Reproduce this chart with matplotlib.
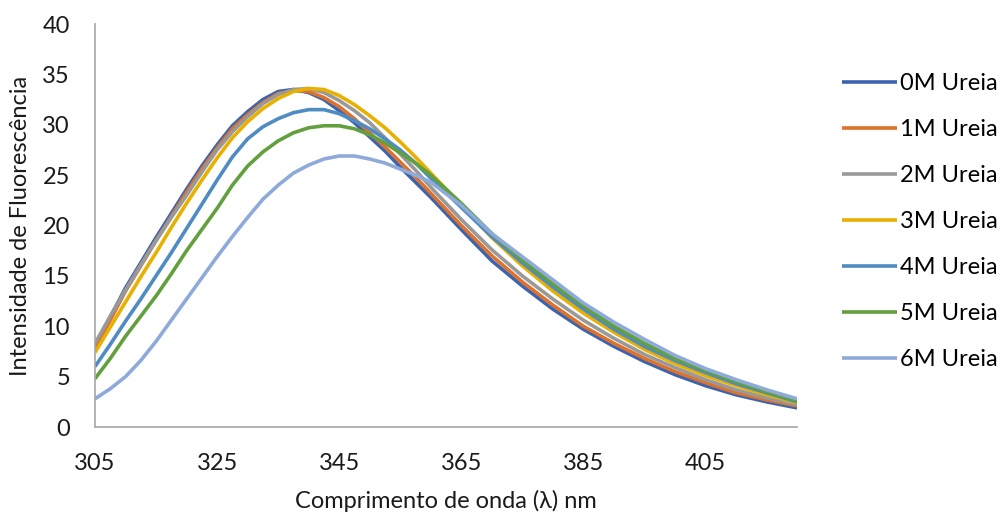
import matplotlib.pyplot as plt

# Emission spectra of the protein at increasing urea concentration
# (2.5 nm steps up to 360 nm, 5 nm steps after)
wavelength = [305, 307.5, 310, 312.5, 315, 317.5, 320, 322.5, 325, 327.5, 330, 332.5,
              335, 337.5, 340, 342.5, 345, 347.5, 350, 352.5, 355, 357.5, 360,
              365, 370, 375, 380, 385, 390, 395, 400, 405, 410, 415, 420]

urea_0M = [8.0, 10.9, 13.8, 16.3, 18.8, 21.2, 23.6, 25.9, 28.0, 29.9, 31.3, 32.5,
           33.3, 33.5, 33.2, 32.5, 31.4, 30.2, 28.8, 27.4, 25.8, 24.3, 22.8,
           19.6, 16.5, 14.0, 11.7, 9.7, 8.0, 6.5, 5.2, 4.1, 3.2, 2.5, 1.9]
urea_1M = [7.8, 10.6, 13.5, 16.0, 18.5, 20.9, 23.3, 25.6, 27.7, 29.6, 31.0, 32.2,
           33.1, 33.4, 33.3, 32.7, 31.8, 30.6, 29.2, 27.8, 26.3, 24.8, 23.2,
           20.0, 17.0, 14.4, 12.1, 10.0, 8.3, 6.8, 5.5, 4.4, 3.4, 2.7, 2.1]
urea_2M = [8.3, 11.0, 13.6, 16.1, 18.5, 20.8, 23.0, 25.3, 27.5, 29.3, 30.8, 32.1,
           33.0, 33.5, 33.6, 33.2, 32.4, 31.4, 30.2, 28.7, 27.1, 25.5, 23.8,
           20.6, 17.6, 15.0, 12.7, 10.6, 8.8, 7.2, 5.9, 4.7, 3.7, 2.9, 2.2]
urea_3M = [7.4, 9.9, 12.4, 14.9, 17.3, 19.8, 22.2, 24.5, 26.7, 28.7, 30.3, 31.6,
           32.6, 33.3, 33.6, 33.5, 32.9, 32.0, 30.9, 29.7, 28.3, 26.8, 25.2,
           22.0, 18.8, 16.0, 13.5, 11.3, 9.4, 7.7, 6.3, 5.1, 4.1, 3.2, 2.4]
urea_4M = [6.0, 8.2, 10.5, 12.7, 15.0, 17.3, 19.7, 22.1, 24.5, 26.8, 28.6, 29.8,
           30.6, 31.2, 31.5, 31.5, 31.1, 30.4, 29.6, 28.6, 27.5, 26.2, 24.7,
           21.8, 18.9, 16.3, 13.9, 11.7, 9.7, 8.0, 6.6, 5.4, 4.3, 3.4, 2.5]
urea_5M = [4.8, 6.8, 9.0, 11.0, 13.0, 15.2, 17.5, 19.6, 21.7, 24.0, 25.9, 27.3,
           28.4, 29.2, 29.7, 29.9, 29.9, 29.6, 29.0, 28.2, 27.2, 26.2, 25.0,
           22.2, 19.2, 16.6, 14.2, 12.0, 10.0, 8.3, 6.8, 5.6, 4.5, 3.5, 2.6]
urea_6M = [2.8, 3.8, 5.0, 6.6, 8.5, 10.6, 12.7, 14.8, 16.9, 18.9, 20.8, 22.6,
           24.0, 25.2, 26.0, 26.6, 26.9, 26.9, 26.6, 26.2, 25.6, 25.0, 24.3,
           22.0, 19.2, 16.9, 14.6, 12.3, 10.4, 8.7, 7.1, 5.8, 4.7, 3.7, 2.8]

series = [urea_0M, urea_1M, urea_2M, urea_3M, urea_4M, urea_5M, urea_6M]
labels = ["0M Ureia", "1M Ureia", "2M Ureia", "3M Ureia", "4M Ureia", "5M Ureia", "6M Ureia"]
colors = ["#3c64ae", "#dc722e", "#999999", "#e8b000", "#4f8cc4", "#62a03d", "#8eaadb"]

plt.rcParams['font.family'] = ['Lato', 'DejaVu Sans']
fs = 17

fig = plt.figure(figsize=(10.03, 5.13), dpi=100)
ax = fig.add_axes([0.0947, 0.1676, 0.700, 0.7856])

for vals, lab, col in zip(series, labels, colors):
    ax.plot(wavelength, vals, color=col, lw=2.6, label=lab, solid_capstyle='butt')

ax.set_xlim(305, 420)
ax.set_ylim(0, 40)
ax.set_xticks([305, 325, 345, 365, 385, 405])
ax.set_yticks(range(0, 41, 5))
ax.tick_params(length=0, labelsize=fs, colors='#1a1a1a')
ax.tick_params(axis='x', pad=19)
ax.tick_params(axis='y', pad=18)

for side in ['top', 'right']:
    ax.spines[side].set_visible(False)
for side in ['left', 'bottom']:
    ax.spines[side].set_color('#a6a6a6')
    ax.spines[side].set_linewidth(1.2)

ax.set_xlabel("Comprimento de onda (λ) nm", fontsize=fs, color='#1a1a1a', labelpad=11)
ax.set_ylabel("Intensidade de Fluorescência", fontsize=fs, color='#1a1a1a', labelpad=8)

fig.legend(loc='upper left', bbox_to_anchor=(0.828, 0.881), frameon=False,
           fontsize=fs, handlelength=2.3, handletextpad=0.15, labelspacing=1.06,
           borderpad=0)

fig.savefig("out.png", dpi=100)
